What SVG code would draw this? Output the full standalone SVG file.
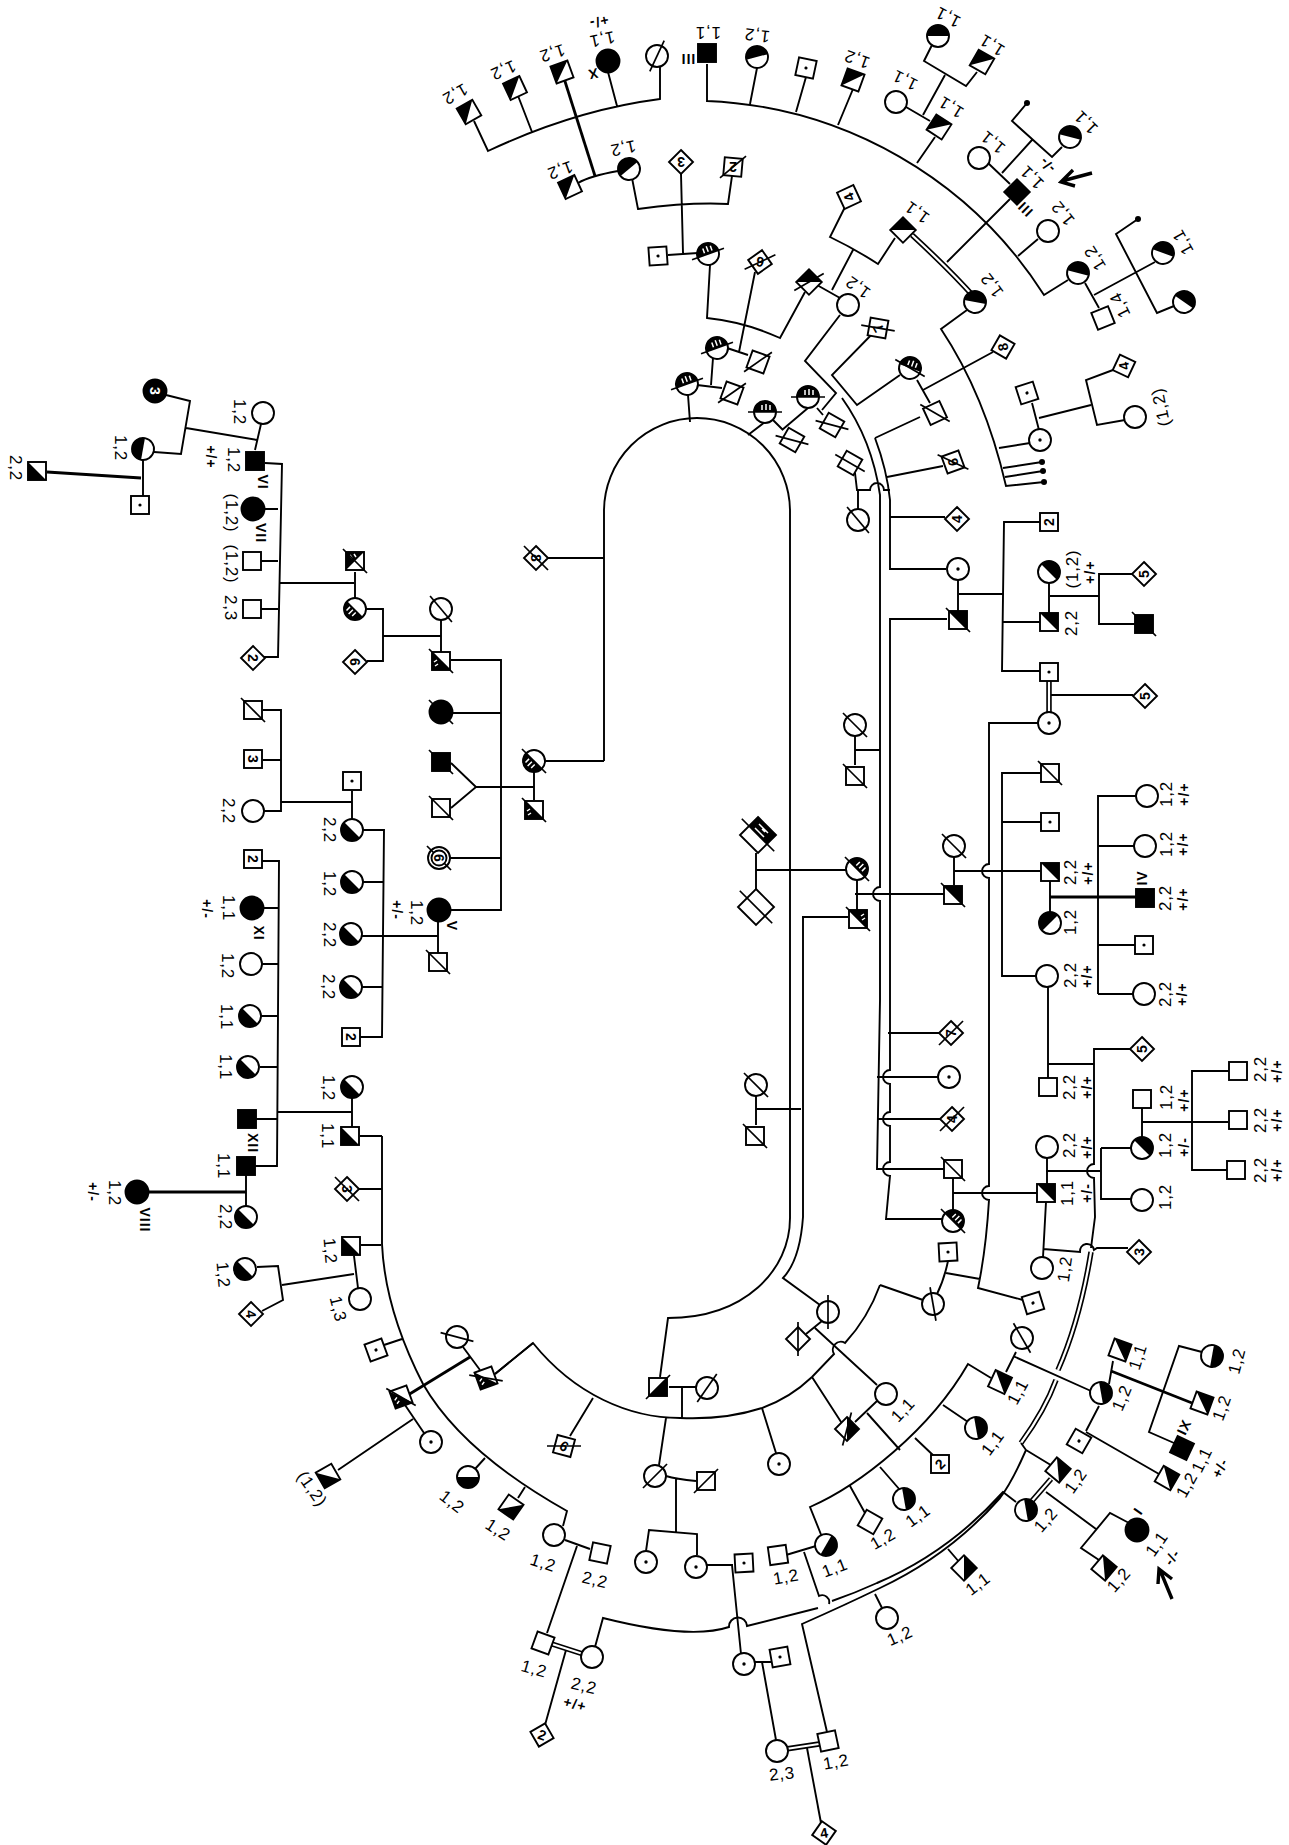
<svg xmlns="http://www.w3.org/2000/svg" width="1289" height="1845" viewBox="0 0 1289 1845">
<style>
text{font-family:"Liberation Sans",Arial,sans-serif;text-anchor:middle;dominant-baseline:central;fill:#000}
.l{font-size:17px;letter-spacing:.8px}
.p{font-size:14px;font-weight:bold;letter-spacing:1px}
.r{font-size:14px;font-weight:bold;letter-spacing:1px}
.m{font-size:14px;font-weight:bold}
.o{fill:#fff;stroke:#000;stroke-width:1.9}
.b{fill:#000;stroke:#000;stroke-width:1.9}
.k{fill:#000;stroke:none}
.t{stroke:#fff;stroke-width:1.5;fill:none}
#conn path{fill:none;stroke:#000;stroke-width:1.9}
#conn .h{stroke-width:2.8}
#conn .d1{stroke-width:5.5}
#conn .d2{stroke:#fff;stroke-width:2.2}
#conn circle{fill:#000}
.x{stroke:#000;stroke-width:1.7}
</style>
<defs>
<circle id="C" r="11" class="o"/>
<circle id="Cf" r="11.5" class="b"/>
<g id="Cd"><circle r="11" class="o"/><circle r="1.7" class="k"/></g>
<g id="CH"><circle r="11" class="o"/><path class="k" d="M-11 0A11 11 0 0 1 11 0Z"/></g>
<g id="CT"><circle r="11" class="o"/><path class="k" d="M-11 0A11 11 0 0 1 11 0Z"/><path class="t" d="M-3 -7V-2M1 -8V-2M5 -7V-2"/></g>
<rect id="S" x="-9" y="-9" width="18" height="18" class="o"/>
<rect id="Sf" x="-9" y="-9" width="18" height="18" class="b"/>
<g id="Sd"><rect x="-9" y="-9" width="18" height="18" class="o"/><circle r="1.6" class="k"/></g>
<g id="SH"><rect x="-9" y="-9" width="18" height="18" class="o"/><path class="k" d="M-9 -9H9L-9 9Z"/></g>
<g id="ST"><rect x="-9" y="-9" width="18" height="18" class="o"/><path class="k" d="M-9 -9H9L-9 9Z"/><path class="t" d="M-5 -6L-3 -3M-1 -7L1 -4"/></g>
<polygon id="D" points="0,-12 12,0 0,12 -12,0" class="o"/>
<polygon id="DL" points="0,-18 18,0 0,18 -18,0" class="o"/>
<line id="X" x1="-17" y1="0" x2="17" y2="0" class="x"/>
</defs>
<g id="conn">
<path d="M474 121L488 151Q575 110 660 99V67M515 88L532 132M608 72L617 106"/>
<path class="h" d="M562 72L595 176"/>
<path d="M578 183Q590 176 618 171M632 178L638 209Q690 202 728 204L732 176M681 174L683 253M668 255L698 253M710 265L707 318Q745 322 780 338L805 292M755 272L739 352M727 348L748 355M713 358L711 385M697 385L722 388M688 395L690 422"/>
<path d="M707 64V101A420 420 0 0 1 1044 295L1068 280M757 68L750 104M806 77L796 112M853 89L838 125M917 163L935 137M1010 199L947 262M1018 256L1038 239"/>
<path d="M932 45L924 61L966 86L977 72M945 75L923 115M906 107L930 121M1027 103L1012 121L1052 157L1062 147M1032 140L1002 173M988 163L1010 184M1085 283L1099 308M1094 295L1155 262M1138 219L1116 234L1157 313L1174 306"/>
<circle r="3" cx="1027" cy="103"/><circle r="3" cx="1138" cy="219"/>
<path class="d1" d="M912 235Q950 270 975 298"/><path class="d2" d="M912 235Q950 270 975 298"/>
<path d="M967 310L941 329Q985 395 1006 486L1044 482M999 448L1030 443M1003 468L1042 462M1005 477L1043 471M923 390L993 352M1032 403L1039 430M1039 418L1091 405M1113 370L1086 380L1097 425L1125 420"/>
<circle r="3" cx="1042" cy="462"/><circle r="3" cx="1043" cy="471"/><circle r="3" cx="1044" cy="482"/>
<path d="M845 207L830 237Q855 249 878 264L895 238M853 250L832 290M817 285L840 298M840 315L805 361L836 393L822 410M878 328L832 375L857 405L900 375M917 380L930 403M875 438L920 417M887 477L943 466M808 408L782 430M773 420L783 430M765 422L748 435M817 408L823 415"/>
<path d="M842 398Q872 440 880 495V887a7 7 0 0 0 0 14V1000L877 1169H944M875 438Q887 470 890 500V569H946M855 473L857 490H870a7 7 0 0 1 14 0H890M890 517H945M858 509V491M855 750H880"/>
<path d="M947 619H890V1070a7 7 0 0 0 0 14V1112a7 7 0 0 0 0 14V1162a7 7 0 0 0 0 14L886 1219H942M888 1033H939M877 1077H938M877 1119H940"/>
<path d="M958 580V611M959 594H1003M1040 522H1004L1002 671H1040M1003 622H1040M1049 583V613M1050 596H1099M1132 574H1099V624H1135M1051 695H1133M1038 723H989V864a7 7 0 0 0 0 14V1186a7 7 0 0 0 0 14Q986 1250 978 1288L1023 1300M946 1273L980 1279M948 1261Q944 1280 937 1294M880 1285L923 1300"/>
<path class="d1" d="M1049 681V712"/><path class="d2" d="M1049 681V712"/>
<path d="M756 853V889M756 870H846M857 880V910M855 894H944M954 857V885M954 871H1040M802 917H848M1041 773H1002V976H1036M1002 822H1041M1050 881V912M1098 994V796H1136M1098 846H1134M1098 945H1135M1098 994H1133M855 736V765"/>
<path class="h" d="M1050 897H1136"/>
<path d="M756 1096V1125M756 1109H801M953 1178V1210M953 1193H1037M1047 1158V1184M1048 987V1078M1048 1064H1094M1046 1171H1100M1132 1049H1094V1164a7 7 0 0 0 0 14L1095 1217L1091 1248M1101 1148V1199H1131M1131 1148H1101M1142 1108V1137M1142 1122H1228M1229 1071H1192V1170H1227"/>
<path d="M1046 1202L1043 1257M1043 1249L1080 1252a7 7 0 0 1 14 -2L1097 1248H1128"/>
<path d="M604 761V511A93 93 0 0 1 790 511V1218C790 1270 745 1318 668 1318L660 1377M547 558H604M545 761H604"/>
<path d="M803 917V1217Q800 1260 783 1278L820 1305M822 1321L806 1334M815 1328L877 1385M880 1285Q868 1318 845 1343a8 8 0 0 0 -11 11L812 1377Q790 1398 762 1408Q725 1420 680 1418C630 1418 575 1395 533 1343L495 1374M812 1377L843 1425M877 1401L855 1422M867 1413L900 1450M762 1408L776 1453M682 1387V1418M669 1387H696M666 1418L659 1465M666 1476Q676 1479 696 1481M676 1478V1533M646 1551L649 1530L697 1534V1555M707 1565H733M732 1565L741 1654M754 1662H772M762 1662L776 1740"/>
<path d="M822 1537L810 1507C860 1485 930 1430 968 1364L991 1378M865 1513L850 1486M880 1467L900 1490M915 1438L935 1457M943 1405L968 1422"/>
<path class="d1" d="M1091 1252Q1080 1320 1058 1370"/><path class="d2" d="M1091 1252Q1080 1320 1058 1370"/>
<path class="d1" d="M1056 1380Q1045 1410 1021 1443"/><path class="d2" d="M1056 1380Q1045 1410 1021 1443"/>
<path d="M1021 1443L1026 1450Q1012 1482 1000 1498Q950 1555 880 1588Q845 1605 802 1624L827 1732M1016 1502L1003 1492Q948 1553 877 1583Q855 1593 832 1601M595 1647L603 1618Q690 1640 729 1627a8 8 0 0 1 18 -1L818 1608M804 1552L819 1596a7 7 0 0 1 10 8M786 1555L816 1546M1026 1450L1054 1467M948 1549L960 1563M875 1594L882 1608"/>
<path d="M1016 1352L1006 1372M1013 1356L1091 1391M1113 1361L1109 1384M1202 1352L1179 1346L1149 1432L1174 1443M1099 1406L1086 1431M1086 1432L1159 1474M1046 1492L1096 1529M1129 1523L1110 1513L1081 1548L1099 1560"/>
<path class="h" d="M1111 1371L1192 1403"/>
<path class="d1" d="M1051 1479L1031 1502"/><path class="d2" d="M1051 1479L1031 1502"/>
<path class="d1" d="M786 1749L819 1744"/><path class="d2" d="M786 1749L819 1744"/>
<path d="M807 1748L821 1823"/>
<path d="M382 1136V1244Q385 1310 423 1384Q462 1452 567 1511L563 1526M360 1136H382M358 1189H382M361 1245H381M384 1345L402 1339M354 1256L358 1288M354 1274L282 1285M257 1267L278 1266L283 1300L262 1311M405 1405L424 1433M413 1419L338 1470M463 1347L480 1370M525 1487L518 1498M485 1458L475 1469M593 1398L570 1436M495 1374L533 1343"/>
<path class="h" d="M408 1395L470 1357"/>
<path d="M565 1540L590 1549M577 1546L547 1633M566 1650L545 1725"/>
<path class="d1" d="M552 1644L583 1654"/><path class="d2" d="M552 1644L583 1654"/>
<path d="M441 619V652M383 636H441M366 609H383V661H367M355 572V598M279 583H354M265 463L282 464L278 657H264M278 509H264M278 561H261M278 609H261M451 660H501V910H450M451 713H501M450 858H501M476 787H534M451 763L476 787L451 808M534 772V800"/>
<path d="M263 710H281V811H264M263 760H281M281 802H352M352 791V819M363 830H384L382 1037H360M363 882H383M362 987H383M361 936H438M438 921V953M262 861H279L277 1166H255M263 908H278M262 964H278M261 1016H278M260 1067H278M256 1119H278M278 1112H352M352 1098V1127M246 1175V1206"/>
<path class="h" d="M148 1192H246"/>
<path d="M261 424L255 450M186 428L257 440M166 395L190 401L181 454L154 452M143 460V497"/>
<path class="h" d="M47 472L141 478"/>
</g>
<g id="n1"><use href="#SH" transform="translate(469 112) rotate(-30)"/><text class="l" transform="translate(455 94) rotate(150)">1,2</text></g>
<g id="n2"><use href="#SH" transform="translate(515 88) rotate(-25)"/><text class="l" transform="translate(503 70) rotate(156)">1,2</text></g>
<g id="n3"><use href="#SH" transform="translate(562 72) rotate(-20)"/><text class="l" transform="translate(552 53) rotate(162)">1,2</text></g>
<g id="n4"><use href="#Cf" transform="translate(608 61)"/><text class="l" transform="translate(602 39) rotate(168)">1,1</text><text class="p" transform="translate(599 22) rotate(168)">+/-</text><text class="r" transform="translate(593 74) rotate(168)">X</text></g>
<g id="n5"><use href="#C" transform="translate(657 56)"/><use href="#X" transform="translate(657 56) rotate(-65)"/></g>
<g id="n6"><use href="#Sf" transform="translate(707 53)"/><text class="l" transform="translate(708 32) rotate(180)">1,1</text><text class="r" transform="translate(688 59) rotate(180)">III</text></g>
<g id="n7"><use href="#CH" transform="translate(757 57) rotate(-15)"/><text class="l" transform="translate(757 35) rotate(-173)">1,2</text></g>
<g id="n8"><use href="#Sd" transform="translate(806 68) rotate(12)"/></g>
<g id="n9"><use href="#SH" transform="translate(853 80) rotate(20)"/><text class="l" transform="translate(857 59) rotate(-160)">1,2</text></g>
<g id="n10"><use href="#CH" transform="translate(938 36)"/><text class="l" transform="translate(948 17) rotate(-153)">1,1</text></g>
<g id="n11"><use href="#SH" transform="translate(982 62) rotate(30)"/><text class="l" transform="translate(992 45) rotate(-148)">1,1</text></g>
<g id="n12"><use href="#C" transform="translate(896 102)"/><text class="l" transform="translate(905 80) rotate(-154)">1,1</text></g>
<g id="n13"><use href="#SH" transform="translate(939 127) rotate(33)"/><text class="l" transform="translate(951 107) rotate(-148)">1,1</text></g>
<g id="n14"><use href="#CH" transform="translate(1070 137) rotate(15)"/><text class="l" transform="translate(1086 122) rotate(-135)">1,1</text></g>
<g id="n15"><use href="#C" transform="translate(979 158)"/><text class="l" transform="translate(993 142) rotate(-141)">1,1</text></g>
<g id="n16"><use href="#Sf" transform="translate(1017 192) rotate(45)"/><text class="l" transform="translate(1032 177) rotate(-135)">1,1</text><text class="p" transform="translate(1047 165) rotate(-135)">-/-</text><text class="r" transform="translate(1025 209) rotate(-135)">III</text></g>
<g id="n17"><use href="#C" transform="translate(1048 231)"/><text class="l" transform="translate(1063 213) rotate(-129)">1,2</text></g>
<g id="n18"><use href="#CH" transform="translate(1078 273) rotate(15)"/><text class="l" transform="translate(1095 258) rotate(-122)">1,2</text></g>
<g id="n19"><use href="#S" transform="translate(1103 318) rotate(-22)"/><text class="l" transform="translate(1120 305) rotate(-116)">1,4</text></g>
<g id="n20"><use href="#CH" transform="translate(1163 253) rotate(20)"/><text class="l" transform="translate(1183 242) rotate(-119)">1,1</text></g>
<g id="n21"><use href="#CH" transform="translate(1184 302) rotate(35)"/></g>
<g id="n22"><use href="#SH" transform="translate(903 230) rotate(45)"/><text class="l" transform="translate(917 212) rotate(-144)">1,1</text></g>
<g id="n23"><use href="#CH" transform="translate(975 302) rotate(10)"/><text class="l" transform="translate(992 285) rotate(-127)">1,2</text></g>
<g id="n24"><use href="#C" transform="translate(848 305)"/><text class="l" transform="translate(858 287) rotate(-144)">1,2</text></g>
<g id="n25"><use href="#S" transform="translate(849 197) rotate(-25)"/><text class="m" transform="translate(849 197) rotate(-115)">4</text></g>
<g id="n26"><use href="#SH" transform="translate(809 282) rotate(45)"/><use href="#X" transform="translate(809 282) rotate(-30)"/></g>
<g id="n27"><use href="#S" transform="translate(878 328) rotate(10)"/><use href="#X" transform="translate(878 328) rotate(10)"/><text class="m" transform="translate(878 328) rotate(-120)">7</text></g>
<g id="n28"><use href="#CT" transform="translate(910 368) rotate(20)"/><use href="#X" transform="translate(910 368) rotate(30)"/></g>
<g id="n29"><use href="#S" transform="translate(935 413) rotate(-25)"/><use href="#X" transform="translate(935 413) rotate(30)"/></g>
<g id="n30"><use href="#D" transform="translate(1003 347) rotate(-15)"/><text class="m" transform="translate(1003 347) rotate(-100)">8</text></g>
<g id="n31"><use href="#S" transform="translate(953 462) rotate(-20)"/><use href="#X" transform="translate(953 462) rotate(25)"/><text class="m" transform="translate(953 462) rotate(-100)">6</text></g>
<g id="n32"><use href="#S" transform="translate(850 463) rotate(30)"/><use href="#X" transform="translate(850 463) rotate(30)"/></g>
<g id="n33"><use href="#Cd" transform="translate(1040 440)"/></g>
<g id="n34"><use href="#Sd" transform="translate(1027 393) rotate(-18)"/></g>
<g id="n35"><use href="#D" transform="translate(1124 366) rotate(-20)"/><text class="m" transform="translate(1124 366) rotate(-100)">4</text></g>
<g id="n36"><use href="#C" transform="translate(1135 417)"/><text class="l" transform="translate(1161 407) rotate(-102)">(1,2)</text></g>
<g id="n37"><use href="#D" transform="translate(681 162)"/><text class="m" transform="translate(681 162) rotate(180)">3</text></g>
<g id="n38"><use href="#S" transform="translate(733 167) rotate(5)"/><use href="#X" transform="translate(733 167) rotate(-40)"/><text class="m" transform="translate(733 167) rotate(180)">2</text></g>
<g id="n39"><use href="#SH" transform="translate(570 187) rotate(-25)"/><text class="l" transform="translate(560 170) rotate(160)">1,2</text></g>
<g id="n40"><use href="#CH" transform="translate(629 169) rotate(-40)"/><text class="l" transform="translate(623 148) rotate(168)">1,2</text></g>
<g id="n41"><use href="#Sd" transform="translate(658 256) rotate(-4)"/></g>
<g id="n42"><use href="#CT" transform="translate(708 254) rotate(-20)"/><use href="#X" transform="translate(708 254) rotate(-20)"/></g>
<g id="n43"><use href="#D" transform="translate(760 262) rotate(10)"/><use href="#X" transform="translate(760 262) rotate(-25)"/><text class="m" transform="translate(760 262) rotate(-170)">6</text></g>
<g id="n45"><use href="#CT" transform="translate(717 348) rotate(-20)"/><use href="#X" transform="translate(717 348) rotate(-20)"/></g>
<g id="n46"><use href="#S" transform="translate(758 362) rotate(20)"/><use href="#X" transform="translate(758 362) rotate(-35)"/></g>
<g id="n47"><use href="#CT" transform="translate(687 384) rotate(-20)"/><use href="#X" transform="translate(687 384) rotate(-20)"/></g>
<g id="n48"><use href="#S" transform="translate(732 393) rotate(20)"/><use href="#X" transform="translate(732 393) rotate(-35)"/></g>
<g id="n49"><use href="#CT" transform="translate(765 412)"/><use href="#X" transform="translate(765 412)"/></g>
<g id="n50"><use href="#S" transform="translate(792 440) rotate(30)"/><use href="#X" transform="translate(792 440) rotate(15)"/></g>
<g id="n51"><use href="#CT" transform="translate(808 397)"/><use href="#X" transform="translate(808 397)"/></g>
<g id="n52"><use href="#S" transform="translate(832 425) rotate(30)"/><use href="#X" transform="translate(832 425) rotate(15)"/></g>
<g id="n53"><use href="#C" transform="translate(858 520)"/><use href="#X" transform="translate(858 520) rotate(50)"/></g>
<g id="n54"><use href="#D" transform="translate(957 519)"/><text class="m" transform="translate(957 519) rotate(-90)">4</text></g>
<g id="n55"><use href="#Cd" transform="translate(958 569)"/></g>
<g id="n56"><use href="#SH" transform="translate(958 620) rotate(90)"/><use href="#X" transform="translate(958 620) rotate(45)"/></g>
<g id="n57"><use href="#S" transform="translate(1049 522)"/><text class="m" transform="translate(1049 522) rotate(-90)">2</text></g>
<g id="n58"><use href="#CH" transform="translate(1049 572) rotate(45)"/><text class="l" transform="translate(1072 569) rotate(-90)">(1,2)</text><text class="p" transform="translate(1090 572) rotate(-90)">+/+</text></g>
<g id="n59"><use href="#SH" transform="translate(1049 622) rotate(90)"/><text class="l" transform="translate(1071 623) rotate(-90)">2,2</text></g>
<g id="n60"><use href="#D" transform="translate(1144 574)"/><text class="m" transform="translate(1144 574) rotate(-90)">5</text></g>
<g id="n61"><use href="#Sf" transform="translate(1144 624)"/><use href="#X" transform="translate(1144 624) rotate(45)"/></g>
<g id="n62"><use href="#Sd" transform="translate(1049 672)"/></g>
<g id="n63"><use href="#Cd" transform="translate(1049 723)"/></g>
<g id="n64"><use href="#D" transform="translate(1145 696)"/><text class="m" transform="translate(1145 696) rotate(-90)">5</text></g>
<g id="n65"><use href="#C" transform="translate(855 725)"/><use href="#X" transform="translate(855 725) rotate(45)"/></g>
<g id="n66"><use href="#S" transform="translate(855 776)"/><use href="#X" transform="translate(855 776) rotate(45)"/></g>
<g id="n67"><use href="#DL" transform="translate(758 835)"/><path class="k" d="M749 826L758 817L776 835L767 844Z"/><path class="t" d="M759 824L768 833M762 829L765 832M755 828L764 837"/><use href="#X" transform="translate(758 835) rotate(45) scale(1.35 1)"/></g>
<g id="n68"><use href="#DL" transform="translate(756 907)"/><use href="#X" transform="translate(756 907) rotate(45) scale(1.35 1)"/></g>
<g id="n69"><use href="#CT" transform="translate(857 869) rotate(45)"/><use href="#X" transform="translate(857 869) rotate(45)"/></g>
<g id="n70"><use href="#ST" transform="translate(858 919) rotate(90)"/><use href="#X" transform="translate(858 919) rotate(45)"/></g>
<g id="n71"><use href="#C" transform="translate(954 846)"/><use href="#X" transform="translate(954 846) rotate(45)"/></g>
<g id="n72"><use href="#SH" transform="translate(953 895) rotate(90)"/><use href="#X" transform="translate(953 895) rotate(45)"/></g>
<g id="n73"><use href="#S" transform="translate(1050 773)"/><use href="#X" transform="translate(1050 773) rotate(45)"/></g>
<g id="n74"><use href="#Sd" transform="translate(1050 822)"/></g>
<g id="n75"><use href="#SH" transform="translate(1050 872) rotate(90)"/><text class="l" transform="translate(1070 872) rotate(-90)">2,2</text><text class="p" transform="translate(1088 873) rotate(-90)">+/+</text></g>
<g id="n76"><use href="#CH" transform="translate(1050 923) rotate(-45)"/><text class="l" transform="translate(1070 922) rotate(-90)">1,2</text></g>
<g id="n77"><use href="#C" transform="translate(1047 976)"/><text class="l" transform="translate(1070 975) rotate(-90)">2,2</text><text class="p" transform="translate(1087 976) rotate(-90)">+/+</text></g>
<g id="n78"><use href="#C" transform="translate(1147 796)"/><text class="l" transform="translate(1166 794) rotate(-90)">1,2</text><text class="p" transform="translate(1184 794) rotate(-90)">+/+</text></g>
<g id="n79"><use href="#C" transform="translate(1145 846)"/><text class="l" transform="translate(1166 844) rotate(-90)">1,2</text><text class="p" transform="translate(1183 844) rotate(-90)">+/+</text></g>
<g id="n80"><use href="#Sf" transform="translate(1145 898)"/><text class="r" transform="translate(1142 878) rotate(-90)">IV</text><text class="l" transform="translate(1165 898) rotate(-90)">2,2</text><text class="p" transform="translate(1183 899) rotate(-90)">+/+</text></g>
<g id="n81"><use href="#Sd" transform="translate(1144 945)"/></g>
<g id="n82"><use href="#C" transform="translate(1144 994)"/><text class="l" transform="translate(1165 994) rotate(-90)">2,2</text><text class="p" transform="translate(1182 994) rotate(-90)">+/+</text></g>
<g id="n83"><use href="#D" transform="translate(951 1033)"/><use href="#X" transform="translate(951 1033) rotate(135)"/><text class="m" transform="translate(951 1033) rotate(-90)">7</text></g>
<g id="n84"><use href="#Cd" transform="translate(949 1077)"/></g>
<g id="n85"><use href="#D" transform="translate(952 1119)"/><use href="#X" transform="translate(952 1119) rotate(135)"/><text class="m" transform="translate(952 1119) rotate(-90)">4</text></g>
<g id="n86"><use href="#S" transform="translate(953 1169)"/><use href="#X" transform="translate(953 1169) rotate(45)"/></g>
<g id="n87"><use href="#CT" transform="translate(953 1221) rotate(45)"/><use href="#X" transform="translate(953 1221) rotate(45)"/></g>
<g id="n88"><use href="#D" transform="translate(1142 1049)"/><text class="m" transform="translate(1142 1049) rotate(-90)">5</text></g>
<g id="n89"><use href="#S" transform="translate(1048 1087)"/><text class="l" transform="translate(1069 1087) rotate(-90)">2,2</text><text class="p" transform="translate(1087 1087) rotate(-90)">+/+</text></g>
<g id="n90"><use href="#C" transform="translate(1047 1147)"/><text class="l" transform="translate(1069 1145) rotate(-90)">2,2</text><text class="p" transform="translate(1087 1147) rotate(-90)">+/+</text></g>
<g id="n91"><use href="#SH" transform="translate(1046 1193) rotate(90)"/><text class="l" transform="translate(1067 1193) rotate(-90)">1,1</text><text class="p" transform="translate(1087 1193) rotate(-90)">+/-</text></g>
<g id="n92"><use href="#S" transform="translate(1142 1099)"/><text class="l" transform="translate(1166 1097) rotate(-90)">1,2</text><text class="p" transform="translate(1184 1100) rotate(-90)">+/+</text></g>
<g id="n93"><use href="#CH" transform="translate(1142 1148) rotate(45)"/><text class="l" transform="translate(1165 1145) rotate(-90)">1,2</text><text class="p" transform="translate(1184 1147) rotate(-90)">+/-</text></g>
<g id="n94"><use href="#C" transform="translate(1142 1200)"/><text class="l" transform="translate(1165 1197) rotate(-90)">1,2</text></g>
<g id="n95"><use href="#S" transform="translate(1238 1071)"/><text class="l" transform="translate(1260 1069) rotate(-90)">2,2</text><text class="p" transform="translate(1277 1071) rotate(-90)">+/+</text></g>
<g id="n96"><use href="#S" transform="translate(1238 1120)"/><text class="l" transform="translate(1260 1120) rotate(-90)">2,2</text><text class="p" transform="translate(1277 1120) rotate(-90)">+/+</text></g>
<g id="n97"><use href="#S" transform="translate(1236 1170)"/><text class="l" transform="translate(1260 1170) rotate(-90)">2,2</text><text class="p" transform="translate(1277 1170) rotate(-90)">+/+</text></g>
<g id="n98"><use href="#C" transform="translate(1042 1268)"/><text class="l" transform="translate(1065 1269) rotate(-82)">1,2</text></g>
<g id="n99"><use href="#D" transform="translate(1139 1252)"/><text class="m" transform="translate(1139 1252) rotate(-85)">3</text></g>
<g id="n100"><use href="#C" transform="translate(756 1085)"/><use href="#X" transform="translate(756 1085) rotate(45)"/></g>
<g id="n101"><use href="#S" transform="translate(755 1136)"/><use href="#X" transform="translate(755 1136) rotate(45)"/></g>
<g id="n102"><use href="#Sd" transform="translate(948 1252) rotate(-3)"/></g>
<g id="n103"><use href="#C" transform="translate(933 1304)"/><use href="#X" transform="translate(933 1304) rotate(80)"/></g>
<g id="n104"><use href="#Sd" transform="translate(1033 1303) rotate(-17)"/></g>
<g id="n105"><use href="#C" transform="translate(828 1312)"/><use href="#X" transform="translate(828 1312) rotate(90)"/></g>
<g id="n106"><use href="#D" transform="translate(798 1339)"/><use href="#X" transform="translate(798 1339) rotate(90)"/></g>
<g id="n107"><use href="#C" transform="translate(886 1394)"/><text class="l" transform="translate(903 1410) rotate(-47)">1,1</text></g>
<g id="n108"><use href="#D" transform="translate(847 1429)"/><path class="k" d="M847 1417L859 1429L847 1441Z"/><use href="#X" transform="translate(847 1429) rotate(105)"/></g>
<g id="n109"><use href="#C" transform="translate(1022 1338)"/><use href="#X" transform="translate(1022 1338) rotate(60)"/></g>
<g id="n110"><use href="#SH" transform="translate(1000 1382) rotate(115)"/><text class="l" transform="translate(1018 1392) rotate(-62)">1,1</text></g>
<g id="n111"><use href="#CH" transform="translate(976 1428) rotate(80)"/><text class="l" transform="translate(993 1443) rotate(-53)">1,1</text></g>
<g id="n112"><use href="#S" transform="translate(940 1464)"/><text class="m" transform="translate(940 1464) rotate(-45)">2</text></g>
<g id="n113"><use href="#CH" transform="translate(904 1499) rotate(80)"/><text class="l" transform="translate(918 1516) rotate(-36)">1,1</text></g>
<g id="n114"><use href="#S" transform="translate(870 1522) rotate(30)"/><text class="l" transform="translate(883 1539) rotate(-30)">1,2</text></g>
<g id="n115"><use href="#CH" transform="translate(826 1545) rotate(120)"/><text class="l" transform="translate(835 1568) rotate(-21)">1,1</text></g>
<g id="n116"><use href="#S" transform="translate(778 1555) rotate(-8)"/><text class="l" transform="translate(786 1577) rotate(-10)">1,2</text></g>
<g id="n117"><use href="#CH" transform="translate(1101 1393) rotate(80)"/><text class="l" transform="translate(1122 1398) rotate(-67)">1,2</text></g>
<g id="n118"><use href="#SH" transform="translate(1120 1350) rotate(110)"/><text class="l" transform="translate(1138 1357) rotate(-72)">1,1</text></g>
<g id="n119"><use href="#CH" transform="translate(1212 1356) rotate(100)"/><text class="l" transform="translate(1237 1361) rotate(-75)">1,2</text></g>
<g id="n120"><use href="#SH" transform="translate(1202 1403) rotate(110)"/><text class="l" transform="translate(1222 1408) rotate(-70)">1,2</text></g>
<g id="n121"><use href="#Sf" transform="translate(1182 1448) rotate(25)"/><text class="r" transform="translate(1184 1427) rotate(-65)">IX</text><text class="l" transform="translate(1202 1460) rotate(-64)">1,1</text><text class="p" transform="translate(1220 1468) rotate(-65)">+/-</text></g>
<g id="n122"><use href="#Sd" transform="translate(1079 1441) rotate(30)"/></g>
<g id="n123"><use href="#SH" transform="translate(1167 1478) rotate(120)"/><text class="l" transform="translate(1187 1485) rotate(-61)">1,2</text></g>
<g id="n124"><use href="#SH" transform="translate(1058 1470) rotate(130)"/><text class="l" transform="translate(1076 1481) rotate(-55)">1,2</text></g>
<g id="n125"><use href="#CH" transform="translate(1026 1510) rotate(80)"/><text class="l" transform="translate(1046 1520) rotate(-49)">1,2</text></g>
<g id="n126"><use href="#Cf" transform="translate(1137 1530)"/><text class="r" transform="translate(1138 1511) rotate(-55)">I</text><text class="l" transform="translate(1157 1544) rotate(-55)">1,1</text><text class="p" transform="translate(1172 1557) rotate(-54)">-/-</text></g>
<g id="n127"><use href="#SH" transform="translate(1104 1568) rotate(130)"/><text class="l" transform="translate(1119 1580) rotate(-49)">1,2</text></g>
<g id="n128"><use href="#SH" transform="translate(964 1568) rotate(135)"/><text class="l" transform="translate(978 1584) rotate(-37)">1,1</text></g>
<g id="n129"><use href="#C" transform="translate(887 1618)"/><text class="l" transform="translate(900 1636) rotate(-24)">1,2</text></g>
<g id="n130"><use href="#S" transform="translate(828 1741) rotate(-12)"/><text class="l" transform="translate(836 1762) rotate(-10)">1,2</text></g>
<g id="n131"><use href="#C" transform="translate(777 1751)"/><text class="l" transform="translate(782 1774) rotate(-6)">2,3</text></g>
<g id="n132"><use href="#D" transform="translate(824 1833) rotate(-10)"/><text class="m" transform="translate(824 1833) rotate(-10)">4</text></g>
<g id="n133"><use href="#Cd" transform="translate(744 1664)"/></g>
<g id="n134"><use href="#Sd" transform="translate(780 1657) rotate(-10)"/></g>
<g id="n135"><use href="#Cd" transform="translate(696 1567)"/></g>
<g id="n136"><use href="#Sd" transform="translate(744 1563) rotate(-3)"/></g>
<g id="n137"><use href="#Cd" transform="translate(646 1562)"/></g>
<g id="n138"><use href="#C" transform="translate(655 1476)"/><use href="#X" transform="translate(655 1476) rotate(-45)"/></g>
<g id="n139"><use href="#S" transform="translate(706 1481)"/><use href="#X" transform="translate(706 1481) rotate(-45)"/></g>
<g id="n140"><use href="#Cd" transform="translate(779 1464)"/></g>
<g id="n141"><use href="#SH" transform="translate(658 1387) rotate(180)"/><use href="#X" transform="translate(658 1387) rotate(-45)"/></g>
<g id="n142"><use href="#C" transform="translate(707 1388)"/><use href="#X" transform="translate(707 1388) rotate(-55)"/></g>
<g id="n143"><use href="#S" transform="translate(564 1446) rotate(15)"/><use href="#X" transform="translate(564 1446)"/><text class="m" transform="translate(564 1446) rotate(30)">6</text></g>
<g id="n144"><use href="#C" transform="translate(554 1535)"/><text class="l" transform="translate(543 1563) rotate(18)">1,2</text></g>
<g id="n145"><use href="#S" transform="translate(600 1553) rotate(12)"/><text class="l" transform="translate(595 1580) rotate(14)">2,2</text></g>
<g id="n146"><use href="#S" transform="translate(543 1643) rotate(20)"/><text class="l" transform="translate(534 1669) rotate(16)">1,2</text></g>
<g id="n147"><use href="#C" transform="translate(592 1657)"/><text class="l" transform="translate(584 1686) rotate(14)">2,2</text><text class="p" transform="translate(575 1704) rotate(14)">+/+</text></g>
<g id="n148"><use href="#D" transform="translate(542 1735) rotate(15)"/><text class="m" transform="translate(542 1735) rotate(20)">2</text></g>
<g id="n149"><use href="#SH" transform="translate(511 1507) rotate(215)"/><text class="l" transform="translate(498 1530) rotate(33)">1,2</text></g>
<g id="n150"><use href="#CH" transform="translate(468 1477) rotate(180)"/><text class="l" transform="translate(452 1502) rotate(38)">1,2</text></g>
<g id="n151"><use href="#Cd" transform="translate(431 1442)"/></g>
<g id="n152"><use href="#SH" transform="translate(328 1476) rotate(240)"/><text class="l" transform="translate(312 1489) rotate(55)">(1,2)</text></g>
<g id="n153"><use href="#ST" transform="translate(401 1397) rotate(250)"/><use href="#X" transform="translate(401 1397) rotate(30)"/></g>
<g id="n154"><use href="#ST" transform="translate(486 1378) rotate(250)"/><use href="#X" transform="translate(486 1378) rotate(10)"/></g>
<g id="n155"><use href="#C" transform="translate(457 1337)"/><use href="#X" transform="translate(457 1337) rotate(15)"/></g>
<g id="n156"><use href="#Sd" transform="translate(376 1350) rotate(-20)"/></g>
<g id="n157"><use href="#SH" transform="translate(351 1246) rotate(270)"/><text class="l" transform="translate(330 1251) rotate(85)">1,2</text></g>
<g id="n158"><use href="#C" transform="translate(360 1299)"/><text class="l" transform="translate(338 1309) rotate(76)">1,3</text></g>
<g id="n159"><use href="#CH" transform="translate(245 1269) rotate(225)"/><text class="l" transform="translate(223 1275) rotate(85)">1,2</text></g>
<g id="n160"><use href="#D" transform="translate(251 1314)"/><text class="m" transform="translate(251 1314) rotate(85)">4</text></g>
<g id="n161"><use href="#D" transform="translate(347 1189)"/><use href="#X" transform="translate(347 1189) rotate(45)"/><text class="m" transform="translate(347 1189) rotate(90)">3</text></g>
<g id="n162"><use href="#SH" transform="translate(350 1136) rotate(270)"/><text class="l" transform="translate(327 1136) rotate(90)">1,1</text></g>
<g id="n163"><use href="#CH" transform="translate(352 1087) rotate(225)"/><text class="l" transform="translate(328 1088) rotate(90)">1,2</text></g>
<g id="n164"><use href="#S" transform="translate(351 1037)"/><text class="m" transform="translate(351 1037) rotate(90)">2</text></g>
<g id="n165"><use href="#CH" transform="translate(351 987) rotate(225)"/><text class="l" transform="translate(328 987) rotate(90)">2,2</text></g>
<g id="n166"><use href="#CH" transform="translate(351 934) rotate(225)"/><text class="l" transform="translate(329 935) rotate(90)">2,2</text></g>
<g id="n167"><use href="#CH" transform="translate(352 882) rotate(225)"/><text class="l" transform="translate(329 884) rotate(90)">1,2</text></g>
<g id="n168"><use href="#CH" transform="translate(352 830) rotate(225)"/><text class="l" transform="translate(329 830) rotate(90)">2,2</text></g>
<g id="n169"><use href="#Sd" transform="translate(352 781)"/></g>
<g id="n170"><use href="#C" transform="translate(253 811)"/><text class="l" transform="translate(228 811) rotate(90)">2,2</text></g>
<g id="n171"><use href="#S" transform="translate(253 759)"/><text class="m" transform="translate(253 759) rotate(90)">3</text></g>
<g id="n172"><use href="#S" transform="translate(253 710)"/><use href="#X" transform="translate(253 710) rotate(45)"/></g>
<g id="n173"><use href="#S" transform="translate(253 859)"/><text class="m" transform="translate(253 859) rotate(90)">2</text></g>
<g id="n174"><use href="#Cf" transform="translate(252 908)"/><text class="r" transform="translate(259 933) rotate(90)">XI</text><text class="l" transform="translate(228 908) rotate(90)">1,1</text><text class="p" transform="translate(207 909) rotate(90)">+/-</text></g>
<g id="n175"><use href="#C" transform="translate(251 964)"/><text class="l" transform="translate(227 966) rotate(90)">1,2</text></g>
<g id="n176"><use href="#CH" transform="translate(250 1016) rotate(225)"/><text class="l" transform="translate(226 1017) rotate(90)">1,1</text></g>
<g id="n177"><use href="#CH" transform="translate(248 1067) rotate(225)"/><text class="l" transform="translate(225 1067) rotate(90)">1,1</text></g>
<g id="n178"><use href="#Sf" transform="translate(247 1119)"/><text class="r" transform="translate(253 1143) rotate(90)">XII</text></g>
<g id="n179"><use href="#Sf" transform="translate(246 1166)"/><text class="l" transform="translate(223 1166) rotate(90)">1,1</text></g>
<g id="n180"><use href="#CH" transform="translate(246 1217) rotate(225)"/><text class="l" transform="translate(225 1217) rotate(90)">2,2</text></g>
<g id="n181"><use href="#Cf" transform="translate(137 1192)"/><text class="r" transform="translate(145 1220) rotate(90)">VIII</text><text class="l" transform="translate(114 1193) rotate(90)">1,2</text><text class="p" transform="translate(93 1192) rotate(90)">+/-</text></g>
<g id="n182"><use href="#Cf" transform="translate(439 910)"/><text class="r" transform="translate(452 926) rotate(90)">V</text><text class="l" transform="translate(416 913) rotate(90)">1,2</text><text class="p" transform="translate(397 910) rotate(90)">+/-</text></g>
<g id="n183"><use href="#S" transform="translate(438 962)"/><use href="#X" transform="translate(438 962) rotate(45)"/></g>
<g id="n184"><use href="#C" transform="translate(439 858)"/><use href="#X" transform="translate(439 858) rotate(45)"/><circle cx="439" cy="858" r="7.5" class="o"/><text class="m" transform="translate(439 858) rotate(90)">6</text></g>
<g id="n185"><use href="#S" transform="translate(441 808)"/><use href="#X" transform="translate(441 808) rotate(45)"/></g>
<g id="n186"><use href="#Sf" transform="translate(441 762)"/><use href="#X" transform="translate(441 762) rotate(45)"/></g>
<g id="n187"><use href="#Cf" transform="translate(441 712)"/><use href="#X" transform="translate(441 712) rotate(45)"/></g>
<g id="n188"><use href="#ST" transform="translate(441 661) rotate(270)"/><use href="#X" transform="translate(441 661) rotate(45)"/></g>
<g id="n189"><use href="#C" transform="translate(441 609)"/><use href="#X" transform="translate(441 609) rotate(50)"/></g>
<g id="n190"><use href="#D" transform="translate(355 662)"/><text class="m" transform="translate(355 662) rotate(90)">6</text></g>
<g id="n191"><use href="#CT" transform="translate(355 609) rotate(225)"/></g>
<g id="n192"><use href="#ST" transform="translate(355 561) rotate(0)"/><use href="#X" transform="translate(355 561) rotate(45)"/></g>
<g id="n193"><use href="#CT" transform="translate(534 761) rotate(225)"/><use href="#X" transform="translate(534 761) rotate(45)"/></g>
<g id="n194"><use href="#ST" transform="translate(534 810) rotate(270)"/><use href="#X" transform="translate(534 810) rotate(45)"/></g>
<g id="n195"><use href="#D" transform="translate(536 558)"/><use href="#X" transform="translate(536 558) rotate(45)"/><text class="m" transform="translate(536 558) rotate(90)">8</text></g>
<g id="n196"><use href="#D" transform="translate(253 658)"/><text class="m" transform="translate(253 658) rotate(90)">2</text></g>
<g id="n197"><use href="#S" transform="translate(252 609)"/><text class="l" transform="translate(230 608) rotate(90)">2,3</text></g>
<g id="n198"><use href="#S" transform="translate(252 561)"/><text class="l" transform="translate(231 564) rotate(90)">(1,2)</text></g>
<g id="n199"><use href="#Cf" transform="translate(253 509)"/><text class="r" transform="translate(261 533) rotate(90)">VII</text><text class="l" transform="translate(231 513) rotate(90)">(1,2)</text></g>
<g id="n200"><use href="#Sf" transform="translate(255 461)"/><text class="r" transform="translate(263 482) rotate(90)">VI</text><text class="l" transform="translate(233 460) rotate(90)">1,2</text><text class="p" transform="translate(211 457) rotate(90)">+/+</text></g>
<g id="n201"><use href="#C" transform="translate(263 413)"/><text class="l" transform="translate(239 412) rotate(90)">1,2</text></g>
<g id="n202"><use href="#CH" transform="translate(143 449) rotate(280)"/><text class="l" transform="translate(120 448) rotate(90)">1,2</text></g>
<g id="n203"><use href="#Cf" transform="translate(155 391)"/><text class="m" transform="translate(155 391) rotate(90)" style="fill:#fff">3</text></g>
<g id="n204"><use href="#Sd" transform="translate(140 505)"/></g>
<g id="n205"><use href="#SH" transform="translate(37 471) rotate(270)"/><text class="l" transform="translate(15 468) rotate(90)">2,2</text></g>
<g id="arrows" fill="none" stroke="#000" stroke-width="3.4"><path d="M1092 173L1062 181M1073 170L1061 182L1075 186"/><path d="M1172 1599L1160 1570M1158 1584L1159 1569L1172 1579"/></g>
</svg>
